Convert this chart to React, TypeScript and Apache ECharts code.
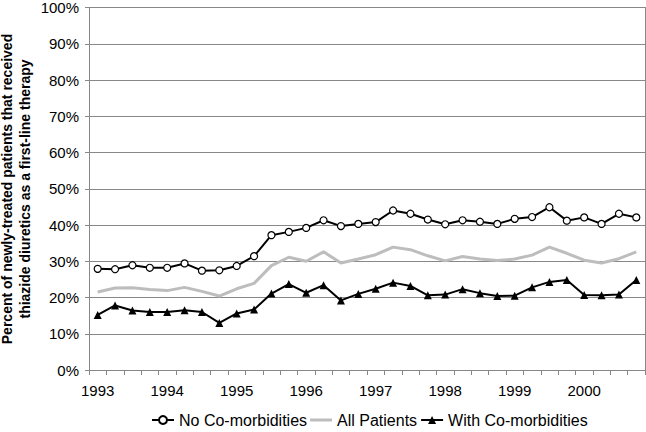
import React, { useEffect, useRef } from "react";
import * as echarts from "echarts";

const quarters: string[] = [];
for (const y of [1993, 1994, 1995, 1996, 1997, 1998, 1999, 2000]) {
  for (const q of [1, 2, 3, 4]) quarters.push(`${y} Q${q}`);
}

const noComorbidities = [27.9, 27.8, 28.9, 28.2, 28.2, 29.4, 27.4, 27.5, 28.7, 31.4, 37.2, 38.1, 39.2, 41.3, 39.7, 40.3, 40.8, 44.0, 43.1, 41.5, 40.2, 41.3, 40.9, 40.3, 41.7, 42.2, 44.9, 41.2, 42.1, 40.3, 43.1, 42.1];
const allPatients = [21.5, 22.6, 22.7, 22.2, 21.9, 22.8, 21.7, 20.4, 22.4, 23.9, 28.8, 31.1, 30.0, 32.6, 29.5, 30.6, 31.8, 33.9, 33.2, 31.5, 30.1, 31.3, 30.6, 30.2, 30.6, 31.7, 33.9, 32.2, 30.3, 29.5, 30.7, 32.6];
const withComorbidities = [15.2, 17.8, 16.4, 16.0, 16.0, 16.5, 16.0, 13.0, 15.6, 16.7, 21.1, 23.7, 21.3, 23.4, 19.2, 21.0, 22.4, 24.1, 23.2, 20.6, 20.8, 22.3, 21.2, 20.4, 20.5, 22.8, 24.3, 24.8, 20.7, 20.6, 20.8, 24.8];

const yAxisTitle = "Percent of newly-treated patients that received\nthiazide diuretics as a first-line therapy";
const FONT = "Liberation Sans";

export default function App() {
  const ref = useRef<HTMLDivElement>(null);
  useEffect(() => {
    if (!ref.current) return;
    const chart = echarts.init(ref.current, undefined, { renderer: "svg" });
    chart.setOption({
      animation: false,
      backgroundColor: "#fff",
      textStyle: { fontFamily: FONT },
      grid: { left: 89, right: 1, top: 7, bottom: 62 },
      legend: {
        left: 151,
        top: 412,
        padding: 0,
        itemWidth: 22,
        itemHeight: 10,
        itemGap: 3,
        textStyle: { fontSize: 16, color: "#000", fontFamily: FONT },
        data: [
          { name: "No Co-morbidities" },
          { name: "All Patients", icon: "path://M0,0 L22,0 L22,3 L0,3 Z" },
          { name: "With Co-morbidities" },
        ],
      },
      graphic: [
        {
          type: "text",
          x: 16,
          y: 189,
          rotation: Math.PI / 2,
          style: {
            text: yAxisTitle,
            fontFamily: FONT,
            fontWeight: "bold",
            fontSize: 14,
            fill: "#000",
            align: "center",
            verticalAlign: "middle",
            lineHeight: 18,
          },
        },
      ],
      xAxis: {
        type: "category",
        data: quarters,
        boundaryGap: true,
        axisLine: { lineStyle: { color: "#888", width: 1 } },
        axisTick: { show: true, interval: 0, length: 5, lineStyle: { color: "#888" } },
        axisLabel: {
          interval: 3,
          fontSize: 15,
          color: "#000",
          margin: 13,
          formatter: (v: string) => v.slice(0, 4),
        },
      },
      yAxis: [
        {
          type: "value",
          min: 0,
          max: 100,
          interval: 10,
          axisLine: { show: true, lineStyle: { color: "#888" } },
          axisTick: { show: true, length: 4, lineStyle: { color: "#888" } },
          axisLabel: { formatter: "{value}%", fontSize: 15, color: "#000", margin: 10 },
          splitLine: { lineStyle: { color: "#888", width: 1 } },
        },
        {
          type: "value",
          position: "right",
          min: 0,
          max: 100,
          interval: 10,
          axisLine: { show: true, lineStyle: { color: "#888" } },
          axisTick: { show: false },
          axisLabel: { show: false },
          splitLine: { show: false },
        },
      ],
      series: [
        {
          name: "No Co-morbidities",
          type: "line",
          data: noComorbidities,
          symbol: "circle",
          symbolSize: 7,
          lineStyle: { color: "#000", width: 2 },
          itemStyle: { color: "#fff", borderColor: "#000", borderWidth: 1.2 },
          z: 3,
        },
        {
          name: "All Patients",
          type: "line",
          data: allPatients,
          symbol: "none",
          lineStyle: { color: "#bdbdbd", width: 3 },
          itemStyle: { color: "#bdbdbd" },
          z: 2,
        },
        {
          name: "With Co-morbidities",
          type: "line",
          data: withComorbidities,
          symbol: "triangle",
          symbolSize: 8,
          lineStyle: { color: "#000", width: 2 },
          itemStyle: { color: "#000" },
          z: 3,
        },
      ],
    });
    return () => chart.dispose();
  }, []);
  return <div ref={ref} style={{ position: "fixed", left: 0, top: 0, width: 646, height: 432 }} />;
}
